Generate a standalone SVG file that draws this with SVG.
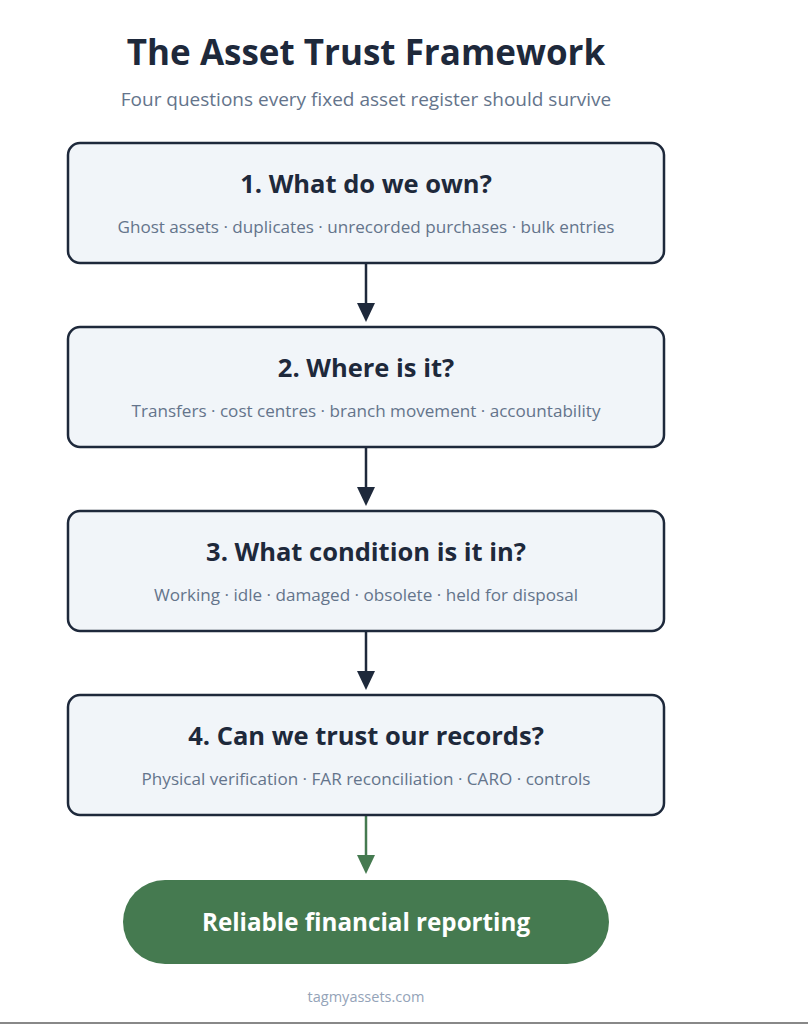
<svg xmlns="http://www.w3.org/2000/svg" width="808" height="1024" viewBox="0 0 808 1024">
<style>
text{font-family:"Open Sans","Noto Sans","Liberation Sans",sans-serif;text-anchor:middle}
.title{font-size:35px;font-weight:700;fill:#1e293b}
.subtitle{font-size:19px;fill:#64748b}
.box{fill:#f1f5f9;stroke:#1e293b;stroke-width:2.5}
.h{font-size:25.5px;font-weight:700;fill:#1e293b}
.d{font-size:17.1px;fill:#64748b}
.conn{stroke:#1e293b;stroke-width:2.5;fill:none}
.connG{stroke:#457a50;stroke-width:2.5;fill:none}
.footer{font-size:14.5px;fill:#94a3b8}
</style>
<rect width="808" height="1024" fill="#ffffff"/>
<g id="header">
<text class="title" x="366" y="65">The Asset Trust Framework</text>
<text class="subtitle" x="366" y="106">Four questions every fixed asset register should survive</text>
</g>
<g id="connectors">
<line class="conn" x1="366" y1="263" x2="366" y2="305"/>
<path d="M357,303 L375,303 L366,322 Z" fill="#1e293b"/>
<line class="conn" x1="366" y1="447" x2="366" y2="489"/>
<path d="M357,487 L375,487 L366,506 Z" fill="#1e293b"/>
<line class="conn" x1="366" y1="631" x2="366" y2="673"/>
<path d="M357,671 L375,671 L366,690 Z" fill="#1e293b"/>
<line class="connG" x1="366" y1="815" x2="366" y2="857"/>
<path d="M357,855 L375,855 L366,874 Z" fill="#457a50"/>
</g>
<g id="node1">
<rect class="box" x="68" y="143" width="596" height="120" rx="12"/>
<text class="h" x="366" y="193">1. What do we own?</text>
<text class="d" x="366" y="233">Ghost assets · duplicates · unrecorded purchases · bulk entries</text>
</g>
<g id="node2">
<rect class="box" x="68" y="327" width="596" height="120" rx="12"/>
<text class="h" x="366" y="377">2. Where is it?</text>
<text class="d" x="366" y="417">Transfers · cost centres · branch movement · accountability</text>
</g>
<g id="node3">
<rect class="box" x="68" y="511" width="596" height="120" rx="12"/>
<text class="h" x="366" y="561">3. What condition is it in?</text>
<text class="d" x="366" y="601">Working · idle · damaged · obsolete · held for disposal</text>
</g>
<g id="node4">
<rect class="box" x="68" y="695" width="596" height="120" rx="12"/>
<text class="h" x="366" y="745">4. Can we trust our records?</text>
<text class="d" x="366" y="785">Physical verification · FAR reconciliation · CARO · controls</text>
</g>
<g id="result">
<rect x="123" y="880" width="486" height="84" rx="42" fill="#457a50"/>
<text x="366" y="931" style="font-size:24.2px;font-weight:700;fill:#ffffff">Reliable financial reporting</text>
</g>
<g id="footer">
<text class="footer" x="366" y="1002">tagmyassets.com</text>
<rect x="0" y="1022" width="808" height="2" fill="#888888"/>
</g>
</svg>
